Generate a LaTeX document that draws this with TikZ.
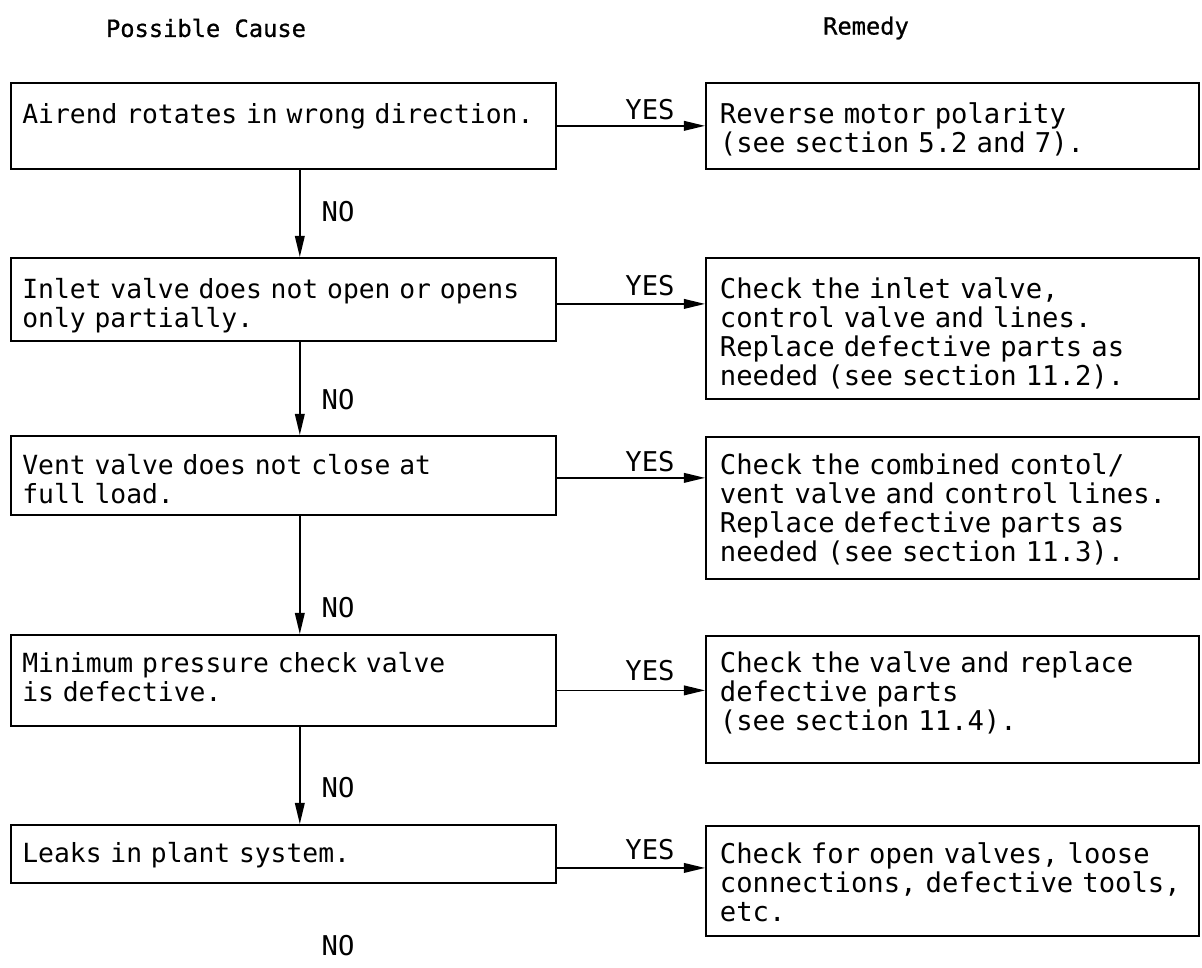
\documentclass[tikz,border=0pt]{standalone}
\usepackage{fontspec}
\setmonofont{DejaVu Sans Mono}
\usetikzlibrary{arrows.meta}
\tikzset{
  txt/.style={font=\ttfamily\fontsize{15.5}{16.5}\selectfont},
  head/.style={font=\ttfamily\fontsize{13.5}{15}\selectfont\addfontfeature{FakeBold=0.8}},
  box/.style={txt, draw, line width=1pt, anchor=north west, align=left, inner ysep=0pt},
  cause/.style={box, font=\ttfamily\fontsize{15}{16.5}\selectfont, text width=297.1pt, inner xsep=6.5pt},
  remedy/.style={box, text width=264.5pt, inner xsep=8pt},
  flow/.style={line width=0.9pt, -{Triangle[length=12pt,width=5.5pt]}},
}
\begin{document}
\begin{tikzpicture}[x=0.02cm,y=-0.02cm]
  \useasboundingbox (0,0) rectangle (1202,967);
  % Titoli
  \node[head] (hcause) at (206,28) {Possible Cause};
  \node[head] (hremedy) at (866,28) {Remedy};
  % Cause
  \node[cause, text height=23.3pt, text depth=25.6pt] (c1) at (10,82) {\mbox{Airend rotates in wrong direction.}};
  \node[cause, text height=23.3pt, text depth=23.9pt] (c2) at (10,257) {\mbox{Inlet valve does not open or opens}\\only partially.};
  \node[cause, text height=22.2pt, text depth=22.8pt] (c3) at (10,435) {Vent valve does not close at\\full load.};
  \node[cause, text height=21.6pt, text depth=30.2pt] (c4) at (10,634) {Minimum pressure check valve\\is defective.};
  \node[cause, text height=21.6pt, text depth=11.4pt] (c5) at (10,824) {Leaks in plant system.};
  % Rimedi
  \node[remedy, text height=23.3pt, text depth=25.6pt] (r1) at (705,82) {Reverse motor polarity\\(see section 5.2 and 7).};
  \node[remedy, text height=23.3pt, text depth=56.9pt] (r2) at (705,257) {Check the inlet valve,\\control valve and lines.\\Replace defective parts as\\needed (see section 11.2).};
  \node[remedy, text height=21.6pt, text depth=59.2pt] (r3) at (705,436) {Check the combined contol/\\\mbox{vent valve and control lines.}\\Replace defective parts as\\needed (see section 11.3).};
  \node[remedy, text height=21.1pt, text depth=51.2pt] (r4) at (705,635) {Check the valve and replace\\defective parts\\(see section 11.4).};
  \node[remedy, text height=21.6pt, text depth=41pt] (r5) at (705,825) {Check for open valves, loose\\\mbox{connections, defective tools,}\\etc.};
  % NO
  \draw[flow] ([xshift=9.4pt]c1.south) -- ([xshift=9.4pt]c2.north);
  \draw[flow] ([xshift=9.4pt]c2.south) -- ([xshift=9.4pt]c3.north);
  \draw[flow] ([xshift=9.4pt]c3.south) -- ([xshift=9.4pt]c4.north);
  \draw[flow] ([xshift=9.4pt]c4.south) -- ([xshift=9.4pt]c5.north);
  \node[txt] (no1) at (338,212) {NO};
  \node[txt] (no2) at (338,400) {NO};
  \node[txt] (no3) at (338,608) {NO};
  \node[txt] (no4) at (338,788) {NO};
  \node[txt] (no5) at (338,946) {NO};
  % YES
  \coordinate (y1) at (c1.east);
  \coordinate (y2) at ([yshift=-2.6pt]c2.east);
  \coordinate (y3) at ([yshift=-1.4pt]c3.east);
  \coordinate (y4) at ([yshift=-5.7pt]c4.east);
  \coordinate (y5) at ([yshift=-8pt]c5.east);
  \draw[flow] (y1) -- (y1 -| r1.west);
  \draw[flow] (y2) -- (y2 -| r2.west);
  \draw[flow] (y3) -- (y3 -| r3.west);
  \draw[flow] (y4) -- (y4 -| r4.west);
  \draw[flow] (y5) -- (y5 -| r5.west);
  \node[txt] (yes1) at (650,110) {YES};
  \node[txt] (yes2) at (650,286) {YES};
  \node[txt] (yes3) at (650,462) {YES};
  \node[txt] (yes4) at (650,671) {YES};
  \node[txt] (yes5) at (650,850) {YES};
\end{tikzpicture}
\end{document}
